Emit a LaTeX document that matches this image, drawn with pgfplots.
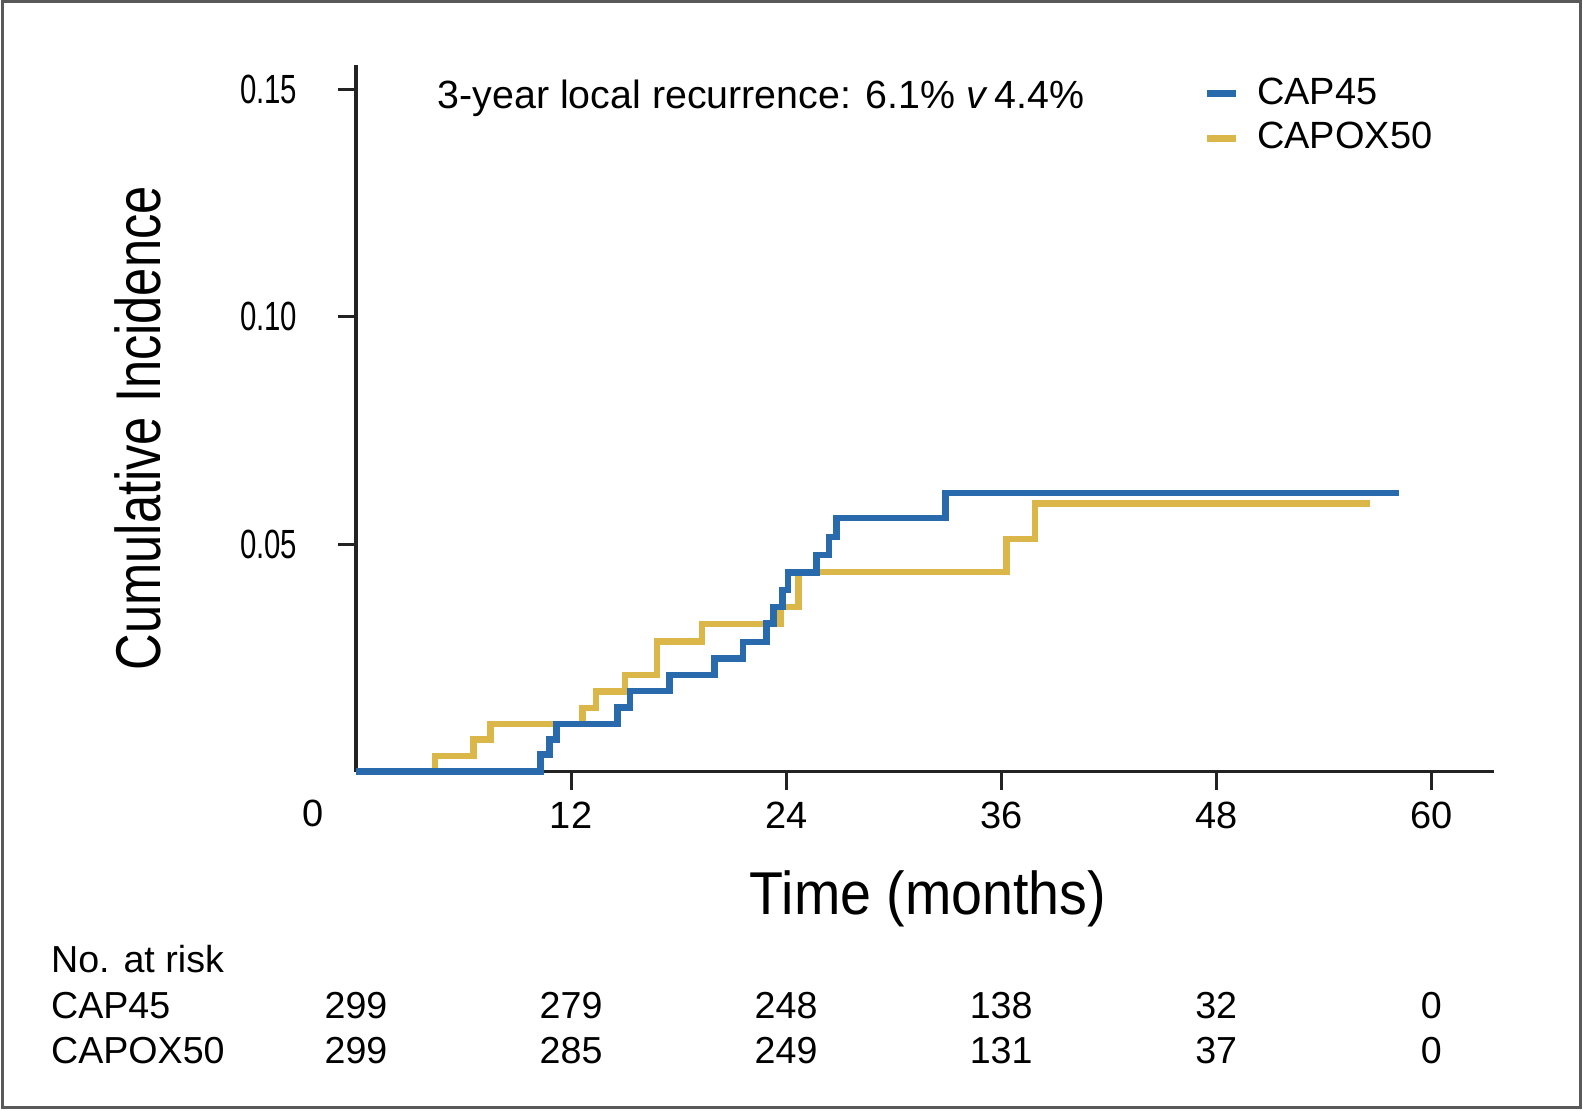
\documentclass[border=0pt]{standalone}
\usepackage{fontspec}
\setmainfont{Liberation Sans}
\newfontfamily\condA[FakeStretch=0.8]{Liberation Sans}
\newfontfamily\condT[FakeStretch=0.72]{Liberation Sans}
\newfontfamily\condB[FakeStretch=0.92]{Liberation Sans}
\usepackage{pgfplots}
\pgfplotsset{compat=1.18}
\definecolor{capblue}{RGB}{40,106,172}
\definecolor{capgold}{RGB}{219,182,72}
\definecolor{axisdark}{RGB}{35,35,35}
\tikzset{risk/.style={inner sep=0pt, font=\fontsize{10.7}{12}\selectfont}}

\begin{document}
\begin{tikzpicture}
\path[use as bounding box] (0,0) rectangle (15.83,-11.10);
\draw[line width=0.03cm, black!65] (0.03,-0.015) rectangle (15.80,-11.075);
\begin{axis}[
  at={(3.56cm,-7.715cm)}, anchor=south west,
  scale only axis, width=11.38cm, height=7.065cm,
  xmin=0, xmax=63.5, ymin=0, ymax=0.1553,
  axis x line=bottom, axis y line=left,
  axis line style={line width=0.035cm, axisdark, -},
  xtick={12,24,36,48,60},
  ytick={0.05,0.10,0.15},
  scaled y ticks=false,
  extra x ticks={0},
  extra x tick style={major tick length=0pt, xticklabel style={xshift=-0.43cm, yshift=-0.16cm}},
  tick align=outside,
  major tick length=0.18cm,
  tick style={line width=0.03cm, axisdark},
  /pgf/number format/assume math mode=true,
  yticklabel style={/pgf/number format/fixed, /pgf/number format/fixed zerofill,
     /pgf/number format/precision=2, font=\condT\fontsize{11.6}{13}\selectfont, inner sep=0pt, xshift=-0.4cm},
  xticklabel style={font=\fontsize{10.8}{12}\selectfont, inner sep=0pt, yshift=-0.12cm},
  clip=false,
  reverse legend,
  legend cell align=left,
  legend style={at={(0.7445,0.99)}, anchor=north west, draw=none, fill=none,
     font=\fontsize{10.8}{12}\selectfont, inner sep=0pt, row sep=0.02cm,
     nodes={inner sep=1.5pt}},
  legend image code/.code={\draw[#1, line width=0.07cm] (0cm,0cm) -- (0.29cm,0cm);},
  legend style={/tikz/every odd column/.append style={column sep=0.12cm}},
]
\addplot[const plot, color=capgold, line width=0.065cm] coordinates {
 (0,0) (4.4,0.0034) (6.55,0.0070) (7.5,0.0105) (12.65,0.0140) (13.4,0.0176)
 (15.0,0.0212) (16.8,0.0286) (19.3,0.0324) (23.7,0.0362) (24.7,0.0439)
 (36.3,0.0511) (37.9,0.0589) (56.6,0.0589)
};
\addlegendentry{CAPOX50}
\addplot[const plot, color=capblue, line width=0.065cm] coordinates {
 (0,0) (10.3,0.0037) (10.8,0.0070) (11.2,0.0105) (14.6,0.0141) (15.3,0.0177)
 (17.5,0.0212) (20.0,0.0248) (21.6,0.0285) (22.9,0.0325) (23.3,0.0362)
 (23.8,0.0399) (24.1,0.0437) (25.7,0.0476) (26.4,0.0516) (26.8,0.0557)
 (32.9,0.0612) (58.2,0.0612)
};
\addlegendentry{CAP45}

\node[anchor=west, inner sep=0pt, font=\fontsize{11.2}{13}\selectfont] at (rel axis cs:0.0712,0.953)
  {3-year local recurrence: 6.1\% \textit{v}\,4.4\%};
\node[rotate=90, inner sep=0pt, font=\condA\fontsize{18}{20}\selectfont] at (rel axis cs:-0.1916,0.486)
  {Cumulative Incidence};
\node[inner sep=0pt, font=\condB\fontsize{17.2}{19}\selectfont] at (rel axis cs:0.5026,-0.18)
  {Time (months)};

\node[anchor=west, risk] at (rel axis cs:-0.2685,-0.2654) {No. at risk};
\node[anchor=west, risk] at (rel axis cs:-0.2685,-0.3313) {CAP45};
\node[anchor=west, risk] at (rel axis cs:-0.2685,-0.3956) {CAPOX50};
\node[risk] at (axis cs:0,-0.05145) {299};
\node[risk] at (axis cs:12,-0.05145) {279};
\node[risk] at (axis cs:24,-0.05145) {248};
\node[risk] at (axis cs:36,-0.05145) {138};
\node[risk] at (axis cs:48,-0.05145) {32};
\node[risk] at (axis cs:60,-0.05145) {0};
\node[risk] at (axis cs:0,-0.06144) {299};
\node[risk] at (axis cs:12,-0.06144) {285};
\node[risk] at (axis cs:24,-0.06144) {249};
\node[risk] at (axis cs:36,-0.06144) {131};
\node[risk] at (axis cs:48,-0.06144) {37};
\node[risk] at (axis cs:60,-0.06144) {0};
\end{axis}
\end{tikzpicture}
\end{document}
